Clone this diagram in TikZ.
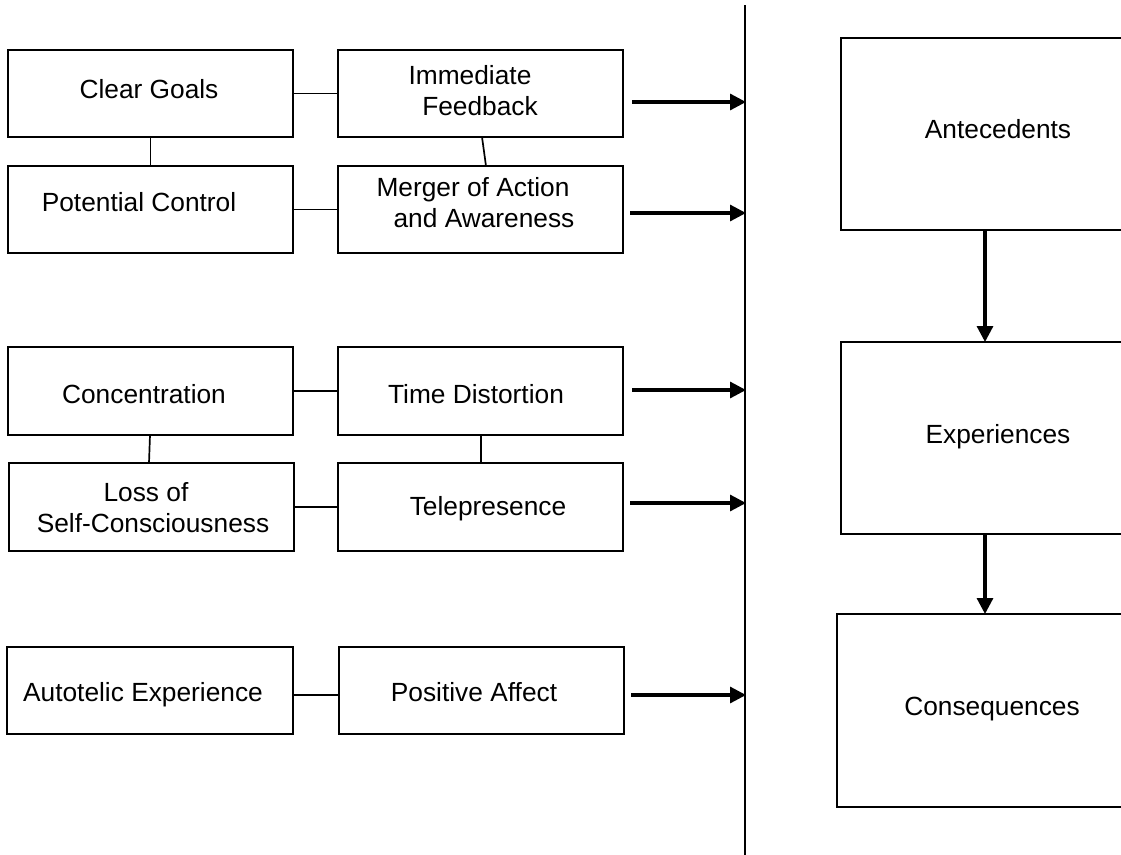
\documentclass[tikz,border=0pt]{standalone}
\usepackage{fontspec}
\setmainfont{Liberation Sans}
\usetikzlibrary{arrows.meta,calc}
\tikzset{
  box/.style={draw=black, line width=1.9pt, inner sep=0pt, outer sep=0pt, fill=none},
  lbl/.style={inner sep=0pt, outer sep=0pt, align=center, font=\fontsize{26.3}{31}\selectfont},
  link/.style={draw=black, line width=1.7pt},
  flow/.style={draw=black, line width=3.2pt, -{Triangle[length=16pt,width=16pt]}},
  divider/.style={draw=black, line width=1.9pt}
}
\begin{document}
\begin{tikzpicture}[x=1pt,y=-1pt]
\useasboundingbox (0,0) rectangle (1121,854);
\clip (0,0) rectangle (1121,854);
% left boxes
\node[box, minimum width=285pt, minimum height=87pt] (cg)   at (150.5,93.5) {};
\node[box, minimum width=285pt, minimum height=87pt] (ifb)  at (480.5,93.5) {};
\node[box, minimum width=285pt, minimum height=87pt] (pc)   at (150.5,209.5) {};
\node[box, minimum width=285pt, minimum height=87pt] (mg)   at (480.5,209.5) {};
\node[box, minimum width=285pt, minimum height=88pt] (con)  at (150.5,391) {};
\node[box, minimum width=285pt, minimum height=88pt] (td)   at (480.5,391) {};
\node[box, minimum width=285pt, minimum height=88pt] (loss) at (151.5,507) {};
\node[box, minimum width=285pt, minimum height=88pt] (tele) at (480.5,507) {};
\node[box, minimum width=286pt, minimum height=87pt] (aut)  at (150,690.5) {};
\node[box, minimum width=285pt, minimum height=87pt] (pa)   at (481.5,690.5) {};
% right boxes
\node[box, minimum width=299pt, minimum height=192pt] (ant)  at (990.5,134) {};
\node[box, minimum width=299pt, minimum height=192pt] (exp)  at (990.5,438) {};
\node[box, minimum width=303pt, minimum height=193pt] (cons) at (988.5,710.5) {};
% labels
\node[lbl] (tcg)   at (149,92.1)   {\strut Clear Goals};
\node[lbl] (tifb)  at (475,93.3)   {\strut Immediate\hspace*{10pt}\\\hspace*{10pt}Feedback\strut};
\node[lbl] (tpc)   at (139,205.5)  {\strut Potential Control};
\node[lbl] (tmg)   at (478.5,206)  {\strut Merger of Action\hspace*{11pt}\\\hspace*{11pt}and Awareness\strut};
\node[lbl] (tcon)  at (144,397.1)  {\strut Concentration};
\node[lbl] (ttd)   at (476,397.1)  {\strut Time Distortion};
\node[lbl] (tloss) at (149.5,511)  {\strut Loss of\hspace*{7pt}\\\hspace*{7pt}Self-Consciousness\strut};
\node[lbl] (ttele) at (488,508.8)  {\strut Telepresence};
\node[lbl] (taut)  at (143,695.5)  {\strut Autotelic Experience};
\node[lbl] (tpa)   at (474,695.5)  {\strut Positive Affect};
\node[lbl] (tant)  at (998,132.1)  {\strut Antecedents};
\node[lbl] (texp)  at (998,437.1)  {\strut Experiences};
\node[lbl] (tcons) at (992,708.8)  {\strut Consequences};
% links between left boxes
\draw[link] (cg.east) -- (ifb.west);
\draw[link] (cg.south) -- (pc.north);
\draw[link] ([xshift=1.5pt]ifb.south) -- ([xshift=5.5pt]mg.north);
\draw[link] (pc.east) -- (mg.west);
\draw[link] (con.east) -- (td.west);
\draw[link] ([xshift=-0.5pt]con.south) -- ([xshift=-2.5pt]loss.north);
\draw[link] ([xshift=0.5pt]td.south) -- ([xshift=0.5pt]tele.north);
\draw[link] (loss.east) -- (tele.west);
\draw[link] ([yshift=-4.5pt]aut.east) -- ([yshift=-4.5pt]pa.west);
% divider
\coordinate (vtop) at (745,5);
\coordinate (vbot) at (745,860);
\draw[divider] (vtop) -- (vbot);
% arrows to divider
\coordinate (s1) at (632,102);  \coordinate (e1) at (746,102);
\coordinate (s2) at (630,213);  \coordinate (e2) at (746,213);
\coordinate (s3) at (632,390);  \coordinate (e3) at (746,390);
\coordinate (s4) at (630,503);  \coordinate (e4) at (746,503);
\coordinate (s5) at (631,695);  \coordinate (e5) at (746,695);
\draw[flow] (s1) -- (e1);
\draw[flow] (s2) -- (e2);
\draw[flow] (s3) -- (e3);
\draw[flow] (s4) -- (e4);
\draw[flow] (s5) -- (e5);
% right-column arrows
\draw[flow] ([xshift=-5.5pt]ant.south) -- ([xshift=-5.5pt]exp.north);
\draw[flow] ([xshift=-5.5pt]exp.south) -- ([xshift=-3.5pt]cons.north);
\end{tikzpicture}
\end{document}
